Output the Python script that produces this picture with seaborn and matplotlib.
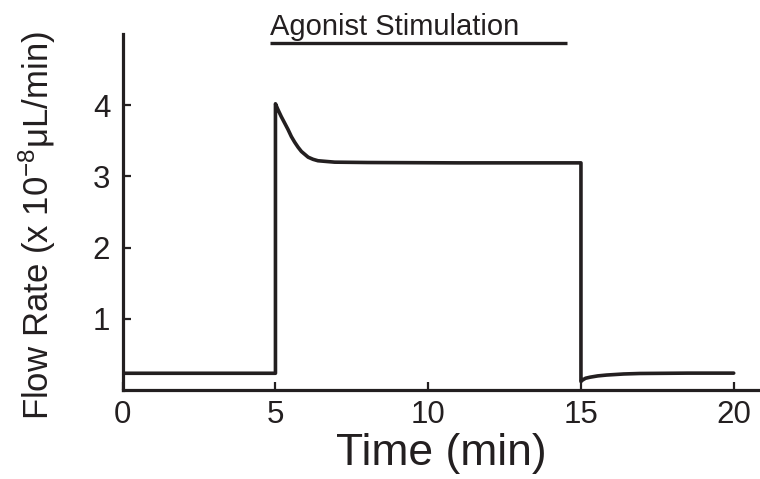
import matplotlib
matplotlib.use("Agg")
import matplotlib.pyplot as plt
import seaborn as sns
import pandas as pd

# ---- data ----
time_min = [0.0, 5.0, 5.0, 5.08, 5.19, 5.30, 5.41, 5.52, 5.63, 5.74, 5.85, 5.96,
            6.07, 6.23, 6.39, 6.66, 6.94, 8.03, 11.0, 15.0,
            15.0, 15.05, 15.15, 15.3, 15.55, 15.84, 16.4, 16.93, 18.5, 20.0]
flow_rate = [0.235, 0.235, 4.02, 3.94, 3.84, 3.75, 3.66, 3.56, 3.48, 3.41, 3.35, 3.31,
             3.27, 3.24, 3.22, 3.21, 3.20, 3.195, 3.19, 3.19,
             0.12, 0.14, 0.165, 0.18, 0.198, 0.21, 0.225, 0.232, 0.237, 0.237]
x_ticks = [0, 5, 10, 15, 20]
y_ticks = [1, 2, 3, 4]
stim_start, stim_end, stim_level = 4.83, 14.55, 4.87
stim_label = "Agonist Stimulation"

df = pd.DataFrame({"Time (min)": time_min, "Flow": flow_rate})

sns.set_theme(style="ticks")
plt.rcParams["font.family"] = ["Liberation Sans", "DejaVu Sans"]
plt.rcParams["mathtext.default"] = "regular"

ink = "#231f20"
fig = plt.figure(figsize=(7.6, 4.79), dpi=100)
ax = fig.add_axes([122.7 / 760, 1 - 390 / 479, 1 - 122.7 / 760, (390 - 34) / 479])

sns.lineplot(data=df, x="Time (min)", y="Flow", ax=ax, sort=False, estimator=None,
             color=ink, linewidth=2.6)

ax.set_xlim(0, (760 - 122.7) / 30.55)
ax.set_ylim(0, 5.0)
ax.set_xticks(x_ticks)
ax.set_yticks(y_ticks)
ax.tick_params(direction="in", length=6, width=1.6, colors=ink, labelsize=22.5,
               labelcolor=ink)
ax.tick_params(axis="x", pad=7)
ax.tick_params(axis="y", pad=9)
for s in ["top", "right"]:
    ax.spines[s].set_visible(False)
for s in ["left", "bottom"]:
    ax.spines[s].set_linewidth(2.3)
    ax.spines[s].set_color(ink)

ax.set_xlabel("Time (min)", fontsize=32, color=ink, labelpad=2)
ax.set_ylabel("Flow Rate (x 10$^{-8}$μL/min)", fontsize=25, color=ink, va="center")
ax.yaxis.set_label_coords((37.5 - 122.7) / 637.3, (390 - 226) / 356)

ax.plot([stim_start, stim_end], [stim_level, stim_level], color=ink, linewidth=2.4,
        clip_on=False, solid_capstyle="butt")
ax.text(stim_start, 4.99, stim_label, fontsize=21, color=ink, ha="left",
        va="baseline", clip_on=False)

fig.savefig("out.png", dpi=100)
